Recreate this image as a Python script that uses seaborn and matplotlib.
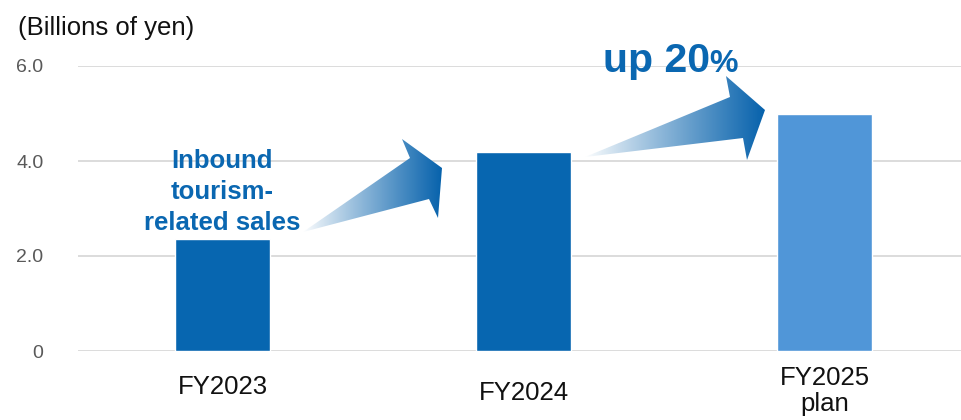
import numpy as np
import pandas as pd
import matplotlib
matplotlib.use("Agg")
import matplotlib.pyplot as plt
from matplotlib.patches import Polygon
from matplotlib.colors import to_rgb
import seaborn as sns

years = ["FY2023", "FY2024", "FY2025\nplan"]
sales = [2.35, 4.2, 5.0]
bar_colors = ["#0766B0", "#0766B0", "#5096D8"]
yticks = [0, 2, 4, 6]
ytick_labels = ["0", "2.0", "4.0", "6.0"]

sns.set_theme(style="white")
plt.rcParams["font.family"] = ["Liberation Sans", "DejaVu Sans"]

W, H = 962, 420
fig = plt.figure(figsize=(W / 100, H / 100), dpi=100)

# main axes placed in pixel terms: left 78, right 962, zero line y=351, 6.0 line y=66
left_px, right_px, bot_px, top_px = 78, 962, 351, 66
ax = fig.add_axes([left_px / W, 1 - bot_px / H, (right_px - left_px) / W, (bot_px - top_px) / H])

df = pd.DataFrame({"year": years, "sales": sales})
sns.barplot(data=df, x="year", y="sales", hue="year", palette=bar_colors,
            width=0.316, saturation=1, legend=False, ax=ax, zorder=3)

# x scale: bar centres 301 px apart, first at x=222.5
step = 301.0
ax.set_xlim((left_px - 222.5) / step, (right_px - 222.5) / step)
ax.set_ylim(0, 6)
ax.set_yticks(yticks)
ax.set_yticklabels(ytick_labels)
ax.tick_params(axis="y", length=0, pad=25, labelsize=14, labelcolor="#595959")
ax.set_xticks(range(len(years)))
ax.set_xticklabels([])
ax.tick_params(axis="x", length=0)
ax.set_xlabel("")
ax.set_ylabel("")
ax.grid(axis="y", color="#D9D9D9", linewidth=1.3, zorder=0)
ax.set_axisbelow(True)
for s in ax.spines.values():
    s.set_visible(False)

# category labels, each with its own baseline
baselines = [394, 400, 385]
xt = ax.get_xaxis_transform()
for i, (lab, b) in enumerate(zip(years, baselines)):
    lines = lab.split("\n")
    for j, line in enumerate(lines):
        yb = b + j * 26
        ax.text(i, (bot_px - yb) / (bot_px - top_px), line, transform=xt,
                ha="center", va="baseline", fontsize=18.5, color="#111111")

# overlay in pixel coordinates for annotations
ov = fig.add_axes([0, 0, 1, 1], zorder=5)
ov.set_xlim(0, W)
ov.set_ylim(H, 0)
ov.axis("off")
ov.patch.set_alpha(0)

ov.text(18, 35, "(Billions of yen)", fontsize=18.5, color="#111111",
        ha="left", va="baseline")

blue = "#0A67B1"
ov.text(222, 168, "Inbound", fontsize=18.5, fontweight="bold", color=blue,
        ha="center", va="baseline")
ov.text(222, 199, "tourism-", fontsize=18.5, fontweight="bold", color=blue,
        ha="center", va="baseline")
ov.text(222, 230, "related sales", fontsize=18.5, fontweight="bold", color=blue,
        ha="center", va="baseline")

ov.text(603, 72, "up 20", fontsize=29.5, fontweight="bold", color=blue,
        ha="left", va="baseline")
ov.text(709, 72, "%", fontsize=23, fontweight="bold", color=blue,
        ha="left", va="baseline")


def gradient_arrow(pts):
    pts = np.array(pts, dtype=float)
    poly = Polygon(pts, closed=True, facecolor="none", edgecolor="none")
    ov.add_patch(poly)
    x0, x1 = pts[:, 0].min(), pts[:, 0].max()
    y0, y1 = pts[:, 1].min(), pts[:, 1].max()
    t = np.linspace(0, 1, 256) ** 0.9
    c0 = np.array(to_rgb("#FFFFFF"))
    c1 = np.array(to_rgb("#0762AC"))
    row = c0[None, :] * (1 - t[:, None]) + c1[None, :] * t[:, None]
    img = np.repeat(row[None, :, :], 2, axis=0)
    im = ov.imshow(img, extent=(x0, x1, y1, y0), aspect="auto", interpolation="bilinear")
    im.set_clip_path(poly)


gradient_arrow([(303, 232), (410, 158), (402, 139), (442, 168), (438, 218), (429, 199)])
gradient_arrow([(585, 157), (730, 97), (726, 76), (765, 110), (747, 160), (743, 138)])
ov.set_xlim(0, W)
ov.set_ylim(H, 0)

fig.savefig("out.png", dpi=100)
